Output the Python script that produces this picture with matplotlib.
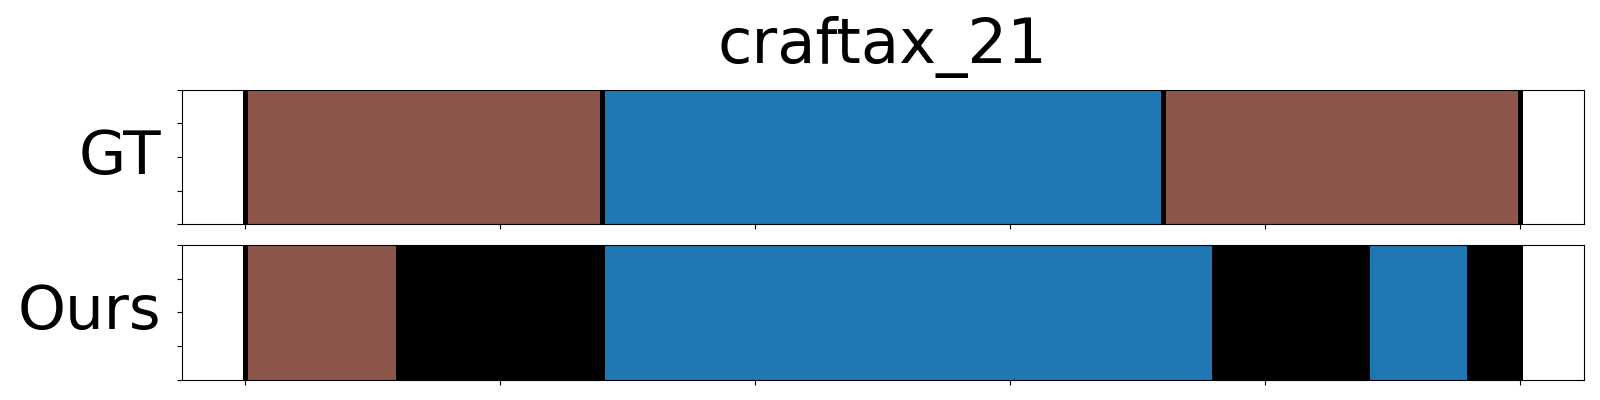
import numpy as np
import matplotlib
matplotlib.use("Agg")
import matplotlib.pyplot as plt

title = "craftax_21"
row_names = ["GT", "Ours"]

# label id per run, run lengths in frames (251 frames total)
gt_labels = [0, 1, 0, 2, 0, 1, 0]
gt_lengths = [1, 69, 1, 109, 1, 69, 1]
ours_labels = [0, 1, 0, 2, 0, 2, 0]
ours_lengths = [1, 29, 41, 119, 31, 19, 11]

palette = {0: "black", 1: "tab:brown", 2: "tab:blue"}

fig = plt.figure(figsize=(16, 4), dpi=100)
ax_gt = fig.add_axes([0.1135, 0.439, 0.8765, 0.3365])
ax_ours = fig.add_axes([0.1135, 0.051, 0.8765, 0.3365])

for ax, name, labels, lengths in [(ax_gt, row_names[0], gt_labels, gt_lengths),
                                  (ax_ours, row_names[1], ours_labels, ours_lengths)]:
    starts = np.concatenate([[0], np.cumsum(lengths)[:-1]]) - 0.5
    ax.bar(starts, np.ones(len(lengths)), width=lengths, align="edge",
           color=[palette[l] for l in labels], linewidth=0)
    last = sum(lengths) - 1
    ax.set_xlim(-0.05 * last, 1.05 * last)
    ax.set_ylim(0, 1)
    ax.set_xticks(np.arange(0, last + 1, 50))
    ax.set_xticklabels([])
    ax.set_yticklabels([])
    ax.set_ylabel(name, rotation=0, fontsize=44, ha="right", va="center", labelpad=8)

ax_gt.set_title(title, fontsize=45, pad=19)

fig.savefig("out.png")
